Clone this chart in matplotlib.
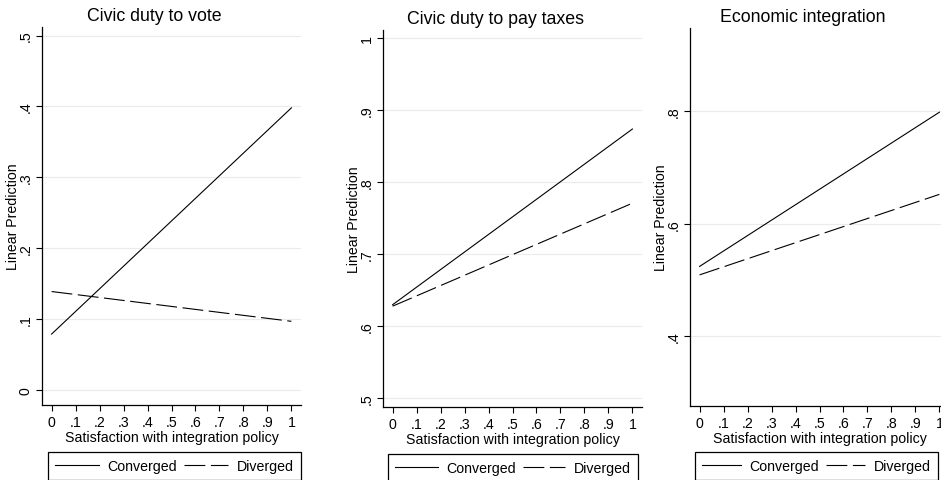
import numpy as np
import matplotlib
matplotlib.use("Agg")
import matplotlib.pyplot as plt

plt.rcParams['font.family'] = ['Liberation Sans', 'DejaVu Sans']
plt.rcParams['lines.scale_dashes'] = False

# Satisfaction with integration policy (endpoints of the linear predictions)
x_vals = [0, 1]
x_ticks = [0, .1, .2, .3, .4, .5, .6, .7, .8, .9, 1]
x_labels = ['0', '.1', '.2', '.3', '.4', '.5', '.6', '.7', '.8', '.9', '1']

titles = ['Civic duty to vote', 'Civic duty to pay taxes', 'Economic integration']
series_names = ['Converged', 'Diverged']

vote_conv = [0.079, 0.398]
vote_div = [0.139, 0.097]
tax_conv = [0.630, 0.874]
tax_div = [0.628, 0.771]
econ_conv = [0.524, 0.798]
econ_div = [0.509, 0.652]

vote_yticks = [0, .1, .2, .3, .4, .5]
vote_ylabels = ['0', '.1', '.2', '.3', '.4', '.5']
tax_yticks = [.5, .6, .7, .8, .9, 1]
tax_ylabels = ['.5', '.6', '.7', '.8', '.9', '1']
econ_yticks = [.4, .6, .8]
econ_ylabels = ['.4', '.6', '.8']

W, H = 941, 481
fig = plt.figure(figsize=(W / 100, H / 100), dpi=100)

# axes boxes in pixels: left, top, bottom (width is the same for all)
panels = [
    dict(left=42, top=28, bottom=406, ylim=(-0.021, 0.512), yt=vote_yticks, yl=vote_ylabels,
         conv=vote_conv, div=vote_div, leg=(48, 453), hl=3.1),
    dict(left=383, top=31, bottom=408, ylim=(0.488, 1.0115), yt=tax_yticks, yl=tax_ylabels,
         conv=tax_conv, div=tax_div, leg=(388, 455), hl=3.0),
    dict(left=690, top=29, bottom=407, ylim=(0.276, 0.9476), yt=econ_yticks, yl=econ_ylabels,
         conv=econ_conv, div=econ_div, leg=(695, 453), hl=2.75),
]
aw = 259

for p, title in zip(panels, titles):
    ah = p['bottom'] - p['top']
    ax = fig.add_axes([p['left'] / W, 1 - p['bottom'] / H, aw / W, ah / H])
    ax.set_xlim(-0.04, 1.04)
    ax.set_ylim(*p['ylim'])
    ax.set_yticks(p['yt'])
    ax.set_yticklabels(p['yl'])
    ax.set_xticks(x_ticks)
    ax.set_xticklabels(x_labels)
    for s in ['top', 'right']:
        ax.spines[s].set_visible(False)
    for s in ['left', 'bottom']:
        ax.spines[s].set_linewidth(0.9)
    ax.grid(axis='y', color='#ebebeb', linewidth=0.8)
    ax.set_axisbelow(True)
    ax.tick_params(axis='both', length=4, width=0.8, labelsize=10.2, pad=3)
    ax.tick_params(axis='y', labelrotation=90, pad=2.5)
    for lab in ax.get_yticklabels():
        lab.set_verticalalignment('center')

    l1, = ax.plot(x_vals, p['conv'], color='black', linewidth=0.8, label=series_names[0])
    l2, = ax.plot(x_vals, p['div'], color='black', linewidth=0.8, label=series_names[1])
    l2.set_dashes((15, 4))

    ax.set_xlabel('Satisfaction with integration policy', fontsize=10.2, labelpad=1)
    ax.set_ylabel('Linear Prediction', fontsize=10.2)
    ax.yaxis.set_label_coords(-0.084, 0.5)
    ax.text(0.5 - 17 / aw, 1 + 7 / ah, title, transform=ax.transAxes,
            ha='center', va='baseline', fontsize=12.8)

    leg = ax.legend(handles=[l1, l2], ncol=2, loc='upper left',
                    bbox_to_anchor=(p['leg'][0] / W, 1 - p['leg'][1] / H),
                    bbox_transform=fig.transFigure, fontsize=10.2,
                    handlelength=p['hl'], handletextpad=0.6, columnspacing=0.5,
                    borderpad=0.5, borderaxespad=0, fancybox=False,
                    edgecolor='black', framealpha=1)
    leg.get_frame().set_linewidth(0.9)

fig.savefig('out.png', dpi=100)
